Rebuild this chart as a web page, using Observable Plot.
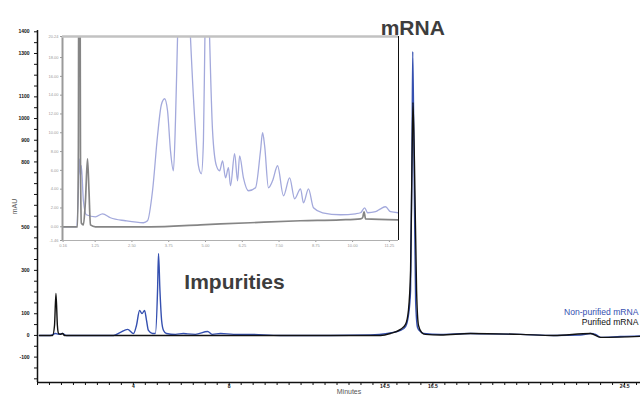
<!DOCTYPE html>
<html><head><meta charset="utf-8">
<script src="https://cdn.jsdelivr.net/npm/d3@7"></script>
<script src="https://cdn.jsdelivr.net/npm/@observablehq/plot@0.6"></script>
<style>
html,body{margin:0;padding:0;background:#fff;overflow:hidden;width:640px;height:394px;}
#wrap{position:relative;width:640px;height:394px;overflow:hidden;}
#main{position:absolute;left:0;top:0;width:660px;height:400px;}
#inset{position:absolute;left:40px;top:30px;width:362px;height:222px;}
#wrap svg{max-width:none !important;}
</style></head><body><div id="wrap"><div id="main"></div><div id="inset"></div></div>
<script>
// ---- main chromatogram (minutes, mAU) ----
const nonPurifiedTime = [0.08,0.54,0.75,0.88,1.04,1.21,2.63,3.17,3.46,3.76,4.01,4.13,4.26,4.36,4.47,4.55,4.63,4.8,4.92,5.01,5.05,5.11,5.18,5.26,5.38,5.76,6.09,6.26,6.59,7.1,7.3,7.64,8.18,8.76,10.14,12.23,13.9,14.6,15.15,15.36,15.48,15.57,15.63,15.66,15.71,15.78,15.86,15.98,16.11,16.82,18.07,18.9,20.16,21.54,22.66,23.08,23.29,23.5,24.33,26];
const nonPurifiedSignal = [0,0,9,5,9,0,0,0,14,28,9,46,115,101,115,69,23,9,9,207,378,207,69,23,9,5,9,7,5,18,5,9,5,5,0,0,2,9,23,41,92,207,853,1309,853,161,37,18,9,5,9,7,5,0,2,9,5,-9,-5,0];
const purifiedTime = [0.08,0.63,0.71,0.77,0.83,0.88,0.96,1.04,1.13,2.63,6.8,10.98,14.32,14.73,15.15,15.36,15.48,15.57,15.63,15.67,15.73,15.82,15.9,16.03,16.19,16.82,18.07,20.16,21.54,23.08,23.5,26];
const purifiedSignal = [0,0,46,194,46,9,5,9,0,0,0,0,0,9,28,51,115,300,806,1074,806,207,46,14,5,2,9,5,0,9,-9,0];
const seriesNames = ["Non-purified mRNA", "Purified mRNA"];
const xMainDomain = [0, 26];
const yMainDomain = [-217, 1406];
const xMainLabelTicks = [4, 8, 14.5, 16.5, 24.5];
const yMainLabelTicks = [1400, 1300, 1100, 1000, 900, 800, 500, 300, 100, 0, -100];

// ---- inset (zoomed view) ----
const insetNonPurifiedTime = [0.14,0.61,0.68,0.71,0.75,0.78,0.85,0.95,1.26,1.5,1.77,2.28,2.89,3.03,3.2,3.37,3.5,3.61,3.71,3.81,3.91,3.98,4.05,4.25,4.49,4.66,4.76,4.86,4.93,4.98,5.05,5.14,5.24,5.37,5.48,5.58,5.68,5.78,5.85,5.99,6.09,6.16,6.29,6.46,6.7,6.87,6.94,7.01,7.14,7.28,7.45,7.65,7.86,8.03,8.23,8.33,8.5,8.67,8.98,9.59,10.1,10.27,10.41,10.51,10.78,10.95,11.12,11.29,11.56];
const insetNonPurifiedSignal = [0,0,3.83,7.23,5.43,6.49,2.77,1.28,1.06,1.38,0.96,0.64,0.43,0.64,3.83,9.68,12.98,13.62,12.34,8.09,5.96,11.28,20.1,40,20.1,10.2,6.5,5.64,9.15,20.1,32,20.1,10.2,6.5,5.96,7.02,5.21,6.28,4.36,7.77,4.89,7.55,5.21,3.83,4.15,8.09,10.0,8.62,4.15,4.89,6.49,3.3,5.21,2.98,4.04,2.55,4.04,2.02,1.49,1.28,1.38,1.49,2.02,1.49,1.6,1.91,2.13,1.6,1.49];
const insetPurifiedTime = [0.14,0.65,0.68,0.71,0.75,0.78,0.85,0.92,0.99,1.04,1.09,1.26,3.13,4.83,6.53,8.23,9.59,10.27,10.34,10.39,10.44,11.56];
const insetPurifiedSignal = [0,0,8.1,60,8.1,0.4,0.2,2.77,7.23,3.83,0.2,0,0,0.21,0.43,0.64,0.74,0.85,0.96,1.6,0.85,0.74];
const insetXDomain = [0.14, 11.56];
const insetYDomain = [-1.46, 20.24];
const insetXTicks = [0.16, 1.25, 2.5, 3.75, 5, 6.25, 7.5, 8.75, 10, 11.25];
const insetYTicks = [-1.46, 0, 2, 4, 6, 8, 10, 12, 14, 16, 18, 20.24];

const toRows = (ts, vs) => ts.map((t, i) => ({t, v: vs[i]}));
const font = "'Liberation Sans', Arial, Helvetica, sans-serif";
const blue = "#3550b0";

const nonPurified = toRows(nonPurifiedTime, nonPurifiedSignal);
const purified = toRows(purifiedTime, purifiedSignal);
const mrnaPeak = nonPurified[d3.maxIndex(nonPurified, d => d.v)];

const main = Plot.plot({
  width: 660, height: 400,
  marginLeft: 37, marginRight: 0, marginTop: 30, marginBottom: 18,
  style: {fontFamily: font, background: "transparent", color: "#111", maxWidth: "none"},
  x: {domain: xMainDomain},
  y: {domain: yMainDomain},
  marks: [
    Plot.axisY({ticks: d3.range(-200, 1401, 50), tickSize: 3, tickFormat: () => "", label: "mAU", labelAnchor: "center", labelOffset: 25, labelArrow: "none", fontSize: 7, fill: "#555"}),
    Plot.axisY({ticks: yMainLabelTicks, tickSize: 0, tickPadding: 8, fontSize: 5, fontWeight: "bold", tickFormat: d => String(d), label: null}),
    Plot.axisX({ticks: d3.range(0, 26.01, 0.5), tickSize: 3, tickFormat: () => "", label: "Minutes", labelAnchor: "center", labelOffset: 11, labelArrow: "none", fontSize: 7, fill: "#555"}),
    Plot.axisX({ticks: xMainLabelTicks, tickSize: 0, tickPadding: 2, fontSize: 5, fontWeight: "bold", tickFormat: d => String(d), label: null}),
    Plot.ruleX([xMainDomain[0]], {stroke: "#111", strokeWidth: 1.5}),
    Plot.ruleY([yMainDomain[0]], {stroke: "#111", strokeWidth: 1.5}),
    Plot.line(nonPurified, {x: "t", y: "v", stroke: blue, strokeWidth: 1.4, curve: "monotone-x"}),
    Plot.line(purified, {x: "t", y: "v", stroke: "#111", strokeWidth: 1.4, curve: "monotone-x"}),
    Plot.text([mrnaPeak], {x: "t", frameAnchor: "top", text: () => "mRNA", dy: -10, fontSize: 21, fontWeight: "bold", fill: "#3d3d3d"}),
    Plot.text([{t: 8.22, v: 247}], {x: "t", y: "v", text: () => "Impurities", fontSize: 21, fontWeight: "bold", fill: "#3d3d3d"}),
    Plot.text([seriesNames[0]], {frameAnchor: "right", text: d => d, textAnchor: "end", dx: -22, dy: 106, fontSize: 8.6, fill: blue}),
    Plot.text([seriesNames[1]], {frameAnchor: "right", text: d => d, textAnchor: "end", dx: -22, dy: 116, fontSize: 8.6, fill: "#111"})
  ]
});
document.getElementById("main").appendChild(main);

const inset = Plot.plot({
  width: 362, height: 222,
  marginLeft: 22, marginTop: 6, marginRight: 4, marginBottom: 12,
  style: {fontFamily: font, background: "transparent", color: "#9a9a9a", maxWidth: "none"},
  x: {domain: insetXDomain},
  y: {domain: insetYDomain},
  marks: [
    Plot.axisY({ticks: insetYTicks, tickSize: 2, tickPadding: 2, tickFormat: d => d.toFixed(2), fontSize: 4, label: null}),
    Plot.axisX({ticks: insetXTicks, tickSize: 2, tickPadding: 2, tickFormat: d => d.toFixed(2), fontSize: 4, label: null}),
    Plot.line(toRows(insetNonPurifiedTime, insetNonPurifiedSignal), {x: "t", y: "v", stroke: "#a3a9dc", strokeWidth: 1.3, curve: "monotone-x", clip: true}),
    Plot.line(toRows(insetPurifiedTime, insetPurifiedSignal), {x: "t", y: "v", stroke: "#858585", strokeWidth: 1.7, curve: "monotone-x", clip: true}),
    Plot.ruleX([insetXDomain[0]], {stroke: "#9a9a9a", strokeWidth: 2}),
    Plot.ruleX([insetXDomain[1]], {stroke: "#111", strokeWidth: 1}),
    Plot.ruleY([insetYDomain[1]], {stroke: "#c2c2c2", strokeWidth: 2.5}),
    Plot.ruleY([insetYDomain[0]], {stroke: "#b0b0b0", strokeWidth: 1})
  ]
});
document.getElementById("inset").appendChild(inset);
</script></body></html>
